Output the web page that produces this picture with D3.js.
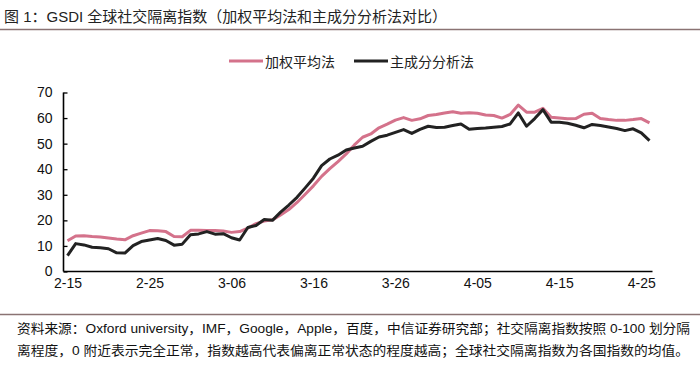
<!DOCTYPE html>
<html><head><meta charset="utf-8">
<script src="https://cdn.jsdelivr.net/npm/d3@7"></script>
<style>
html,body{margin:0;padding:0;background:#fff;}
svg{display:block;}
text{font-family:"Liberation Sans",Arial,"Noto Sans CJK SC",sans-serif;}
</style></head>
<body>
<svg id="c" width="700" height="365"></svg>
<script>
// ---- data ----
const title = "图 1：GSDI 全球社交隔离指数（加权平均法和主成分分析法对比）";
const footnote1 = "资料来源：Oxford university，IMF，Google，Apple，百度，中信证券研究部；社交隔离指数按照 0-100 划分隔";
const footnote2 = "离程度，0 附近表示完全正常，指数越高代表偏离正常状态的程度越高；全球社交隔离指数为各国指数的均值。";
const seriesNames = ["加权平均法", "主成分分析法"];
// dates 2020-02-15 .. 2020-04-26
const dates = (() => { const out = []; const d0 = new Date(2020, 1, 15);
  for (let i = 0; i < 72; i++) { const d = new Date(2020, 1, 15 + i);
    out.push((d.getMonth() + 1) + "-" + String(d.getDate()).padStart(2, "0")); }
  return out; })();
const xTickLabels = ["2-15", "2-25", "3-06", "3-16", "3-26", "4-05", "4-15", "4-25"];
const yTicks = [0, 10, 20, 30, 40, 50, 60, 70];
const weighted = [
  12.0, 13.9, 14.0, 13.7, 13.5, 13.1, 12.7, 12.4, 14.0, 15.0,
  16.0, 15.9, 15.6, 13.7, 13.6, 16.1, 16.1, 16.0, 16.0, 15.8,
  15.3, 15.6, 17.0, 18.7, 19.7, 20.2, 22.1, 24.2, 27.0, 30.2,
  33.5, 37.2, 40.2, 43.0, 46.0, 49.5, 52.5, 53.8, 56.2, 57.6,
  59.2, 60.2, 59.1, 59.7, 61.0, 61.4, 62.0, 62.5, 61.9, 62.1,
  61.9, 61.2, 61.0, 60.0, 61.4, 65.1, 62.3, 62.3, 63.8, 60.3,
  60.0, 59.7, 59.8, 61.5, 61.9, 59.8, 59.4, 59.1, 59.1, 59.4,
  59.8, 58.1];
const pca = [
  6.2, 10.9, 10.4, 9.5, 9.3, 8.9, 7.3, 7.2, 10.1, 11.7,
  12.3, 12.9, 12.1, 10.3, 10.7, 14.4, 14.7, 15.6, 14.6, 14.8,
  13.2, 12.3, 17.2, 18.0, 20.3, 20.0, 23.2, 26.0, 29.0, 32.7,
  36.5, 41.4, 44.0, 45.5, 47.5, 48.3, 49.0, 50.9, 52.6, 53.3,
  54.4, 55.5, 54.0, 55.6, 56.8, 56.3, 56.4, 57.1, 57.7, 55.6,
  55.9, 56.1, 56.4, 56.7, 57.7, 62.0, 56.8, 59.8, 63.3, 58.4,
  58.4, 58.0, 57.2, 56.2, 57.5, 57.1, 56.5, 55.9, 55.1, 55.8,
  54.2, 51.2];
const colors = ["#d4728b", "#222222"];

// ---- drawing ----
const svg = d3.select("#c");
const axisLeft = 63.5, axisRight = 652.5, y0px = 271.5, y70px = 92.5;

svg.append("text").attr("x", 4).attr("y", 22).attr("font-size", 15).attr("fill", "#222")
  .attr("textLength", 443).attr("lengthAdjust", "spacingAndGlyphs").text(title);
svg.append("line").attr("x1", 0).attr("x2", 700).attr("y1", 29.5).attr("y2", 29.5)
  .attr("stroke", "#8a7373").attr("stroke-width", 1.5);

const x = d3.scalePoint().domain(dates).range([67.5, 649.5]);
const y = d3.scaleLinear().domain([0, 70]).range([y0px, y70px]);

// y axis
const gy = svg.append("g").attr("transform", `translate(${axisLeft},0)`)
  .call(d3.axisLeft(y).tickValues(yTicks).tickSize(-4).tickPadding(11));
gy.select(".domain").attr("stroke", "#000").attr("stroke-width", 1.6)
  .attr("d", `M0,${y70px}V${y0px}`);
gy.selectAll(".tick line").attr("stroke", "#000").attr("stroke-width", 1.3);
gy.selectAll(".tick text").attr("font-size", 14).attr("fill", "#111")
  .attr("font-family", "Liberation Sans, Arial, sans-serif");

// x axis
const gx = svg.append("g").attr("transform", `translate(0,${y0px})`)
  .call(d3.axisBottom(x).tickValues(xTickLabels).tickSize(0).tickPadding(7));
gx.select(".domain").attr("stroke", "#000").attr("stroke-width", 1.6)
  .attr("d", `M${axisLeft},0H${axisRight}`);
gx.selectAll(".tick text").attr("font-size", 14).attr("fill", "#111")
  .attr("font-family", "Liberation Sans, Arial, sans-serif");

// lines
const line = d3.line().x((d, i) => x(dates[i])).y(d => y(d));
[weighted, pca].forEach((s, k) => {
  svg.append("path").datum(s).attr("d", line).attr("fill", "none")
    .attr("stroke", colors[k]).attr("stroke-width", 3).attr("stroke-linejoin", "round");
});

// legend
const legend = [{x1: 229, x2: 263, tx: 265}, {x1: 354, x2: 388, tx: 390}];
legend.forEach((l, k) => {
  svg.append("line").attr("x1", l.x1).attr("x2", l.x2).attr("y1", 61).attr("y2", 61)
    .attr("stroke", colors[k]).attr("stroke-width", 3);
  svg.append("text").attr("x", l.tx).attr("y", 66.5).attr("font-size", 14).attr("fill", "#222")
    .attr("font-family", "Noto Sans CJK SC, sans-serif").text(seriesNames[k]);
});

// footer
svg.append("line").attr("x1", 0).attr("x2", 700).attr("y1", 314.5).attr("y2", 314.5)
  .attr("stroke", "#8a7373").attr("stroke-width", 1.5);
svg.append("text").attr("x", 17).attr("y", 333).attr("font-size", 13).attr("fill", "#111")
  .attr("textLength", 673).attr("lengthAdjust", "spacingAndGlyphs").text(footnote1);
svg.append("text").attr("x", 17).attr("y", 355).attr("font-size", 13).attr("fill", "#111")
  .attr("textLength", 672).attr("lengthAdjust", "spacingAndGlyphs").text(footnote2);
</script>
</body></html>
